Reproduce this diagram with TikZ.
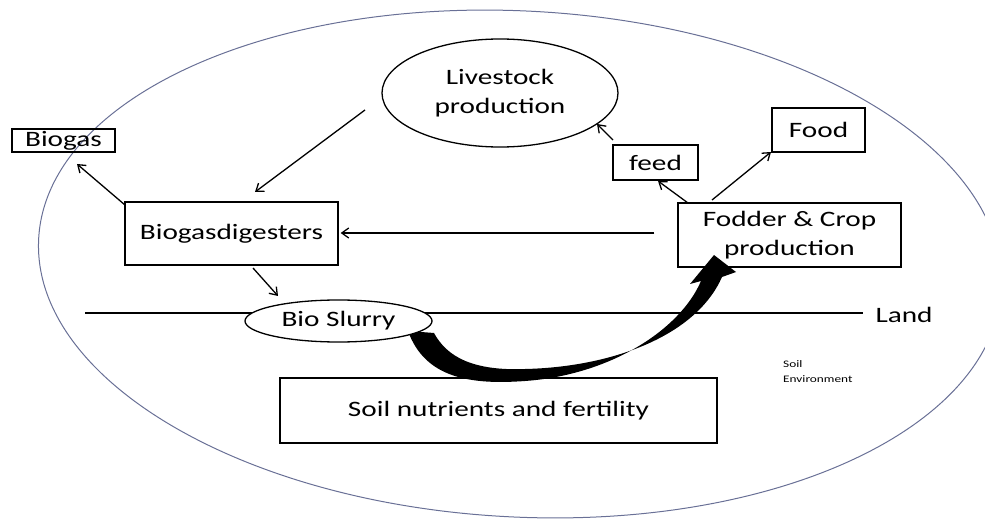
\documentclass[tikz,border=0pt]{standalone}
\usepackage{fontspec}
\setmainfont[FakeStretch=1.33]{Carlito}
\usetikzlibrary{arrows.meta,shapes.geometric,calc}
\begin{document}
\begin{tikzpicture}[x=1pt,y=-1pt,
  box/.style={draw,line width=1.3pt,inner sep=0pt,align=center,font=\fontsize{22}{29}\selectfont},
  oval/.style={draw,ellipse,fill=white,line width=1.3pt,inner sep=0pt,align=center,font=\fontsize{22}{29}\selectfont},
  arr/.style={line width=1.3pt,-{Straight Barb[length=7pt,width=10pt,line width=1.3pt]}},
  envline/.style={draw={rgb,255:red,105;green,112;blue,150},line width=1pt}]
\useasboundingbox (0,0) rectangle (985,521);
% environment
\draw[envline,rotate around={-3:(520,264)}] (520,264) ellipse [x radius=482, y radius=253];
% land line
\coordinate (landL) at (85,313);
\coordinate (landR) at (863,313);
\draw[line width=1.3pt] (landL) -- (landR);
\node[anchor=west,font=\fontsize{22}{26}\selectfont] (land) at (872,315) {Land};
% thick curved arrow
\fill (408,331) .. controls (425,378) and (470,385) .. (525,381)
  .. controls (610,375) and (680,330) .. (701,281) -- (690,284) -- (714,255) -- (736,272) -- (722,277)
  .. controls (696,336) and (612,367) .. (525,369)
  .. controls (473,371) and (447,357) .. (434,333) -- cycle;
% nodes
\node[oval,minimum width=236,minimum height=108] (live) at (500,93) {Livestock\\production};
\node[box,minimum width=103,minimum height=23] (biogas) at (63.5,140.5) {Biogas};
\node[box,minimum width=213,minimum height=63] (dig) at (231.5,233.5) {Biogasdigesters};
\node[box,minimum width=223,minimum height=64] (fod) at (789.5,235) {Fodder \& Crop\\production};
\node[box,minimum width=85,minimum height=35] (feed) at (655.5,162.5) {feed};
\node[box,minimum width=93,minimum height=44] (food) at (818.5,130) {Food};
\node[box,minimum width=437,minimum height=65] (soil) at (498.5,410.5) {Soil nutrients and fertility};
\node[oval,minimum width=187,minimum height=42] (slurry) at (338.5,321) {Bio Slurry};
\node[anchor=north west,align=left,inner sep=0pt,font=\fontsize{10}{15}\selectfont] (env) at (783,360) {Soil\\Environment};
% connectors
\coordinate (l1) at (365,110); \coordinate (l2) at (255,192);
\draw[arr] (l1) -- (l2);
\coordinate (b1) at (125,205); \coordinate (b2) at (77,164);
\draw[arr] (b1) -- (b2);
\draw[arr,shorten <=23pt,shorten >=2pt] (fod.west |- 0,233) -- (dig.east |- 0,233);
\coordinate (d1) at (253,268); \coordinate (d2) at (278,296);
\draw[arr] (d1) -- (d2);
\coordinate (f1) at (688,203); \coordinate (f2) at (658,181);
\draw[arr] (f1) -- (f2);
\coordinate (g1) at (712,200); \coordinate (g2) at (771,152);
\draw[arr] (g1) -- (g2);
\coordinate (h1) at (613,140); \coordinate (h2) at (597,124);
\draw[arr] (h1) -- (h2);
\end{tikzpicture}
\end{document}
